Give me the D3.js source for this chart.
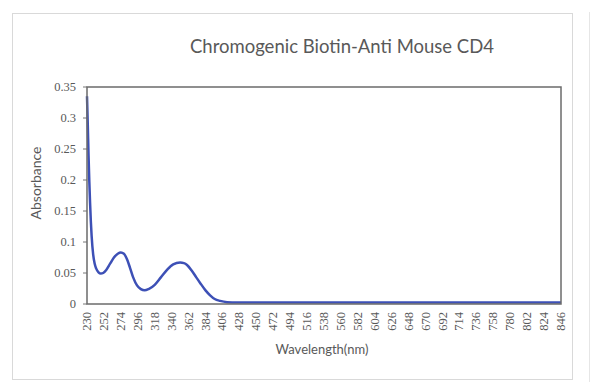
<!DOCTYPE html>
<html>
<head>
<meta charset="utf-8">
<script src="https://cdn.jsdelivr.net/npm/d3@7"></script>
<style>
  body { margin: 0; background: #fff; }
  text { fill: #595959; }
</style>
</head>
<body>
<div id="chart"></div>
<script>
const width = 600,
    height = 391;

// data
const wavelengths = [230, 231, 232, 233, 234, 235, 236, 238, 240, 242, 245, 248, 251, 255, 260, 265, 270, 274, 278, 282, 286, 290, 295, 300, 305, 310, 318, 326, 334, 342, 351, 356, 360, 366, 372, 377, 384, 390, 396, 403, 412, 425, 450, 600, 846];
const absorbance = [0.335, 0.29, 0.24, 0.198, 0.163, 0.133, 0.11, 0.08, 0.065, 0.057, 0.051, 0.049, 0.05, 0.055, 0.065, 0.075, 0.081, 0.083, 0.081, 0.072, 0.058, 0.043, 0.03, 0.024, 0.022, 0.024, 0.031, 0.043, 0.055, 0.064, 0.067, 0.066, 0.063, 0.054, 0.043, 0.034, 0.022, 0.014, 0.008, 0.005, 0.003, 0.0025, 0.0025, 0.0025, 0.0025];
const yTicks = [0, 0.05, 0.1, 0.15, 0.2, 0.25, 0.3, 0.35];
const xTicks = d3.range(230, 847, 22);

const margin = {left: 87, right: 39, top: 87, bottom: 87};

let svg = d3.select('#chart').append('svg')
    .attr('width', width)
    .attr('height', height);

// outer frame
svg.append('rect')
    .attr('x', 12.5).attr('y', 13.5)
    .attr('width', 560).attr('height', 366)
    .attr('fill', 'none')
    .attr('stroke', '#d9d9d9');

svg.append('line')
    .attr('x1', 589.5).attr('x2', 589.5)
    .attr('y1', 12).attr('y2', 382)
    .attr('stroke', '#e6e6e6');

let x = d3.scaleLinear()
    .domain([230, 846])
    .range([margin.left, width - margin.right]);

let y = d3.scaleLinear()
    .domain([0, 0.35])
    .range([height - margin.bottom, margin.top]);

// title
svg.append('text')
    .attr('x', 342).attr('y', 53)
    .attr('text-anchor', 'middle')
    .style('font-family', 'Lato, "Open Sans", sans-serif')
    .style('font-size', '18.5px')
    .text('Chromogenic Biotin-Anti Mouse CD4');

// y axis labels + ticks
let yAxis = svg.append('g').selectAll('g')
    .data(yTicks)
    .enter().append('g');

yAxis.append('line')
    .attr('x1', margin.left - 4).attr('x2', margin.left)
    .attr('y1', d => y(d)).attr('y2', d => y(d))
    .attr('stroke', '#777');

yAxis.append('text')
    .attr('x', margin.left - 11)
    .attr('y', d => y(d) + 4)
    .attr('text-anchor', 'end')
    .style('font-family', '"Liberation Serif", serif')
    .style('font-size', '12.5px')
    .text(d => d);

// x axis labels (rotated)
svg.append('g').selectAll('text')
    .data(xTicks)
    .enter().append('text')
    .attr('transform', d => 'translate(' + (x(d) + 4) + ',' + (height - margin.bottom + 8) + ') rotate(-90)')
    .attr('text-anchor', 'end')
    .style('font-family', '"Liberation Serif", serif')
    .style('font-size', '12.5px')
    .text(d => d);

// axis titles
svg.append('text')
    .attr('transform', 'translate(41,' + 183 + ') rotate(-90)')
    .attr('text-anchor', 'middle')
    .style('font-family', 'Lato, "Open Sans", sans-serif')
    .style('font-size', '14px')
    .text('Absorbance');

svg.append('text')
    .attr('x', 322).attr('y', 354)
    .attr('text-anchor', 'middle')
    .style('font-family', 'Lato, "Open Sans", sans-serif')
    .style('font-size', '13px')
    .text('Wavelength(nm)');

// data line
let points = wavelengths.map((w, i) => [w, absorbance[i]]);

let line = d3.line()
    .x(d => x(d[0]))
    .y(d => y(d[1]))
    .curve(d3.curveMonotoneX);

svg.append('path')
    .datum(points)
    .attr('d', line)
    .attr('fill', 'none')
    .attr('stroke', '#3d50b6')
    .attr('stroke-width', 2.5);

// plot border
svg.append('rect')
    .attr('x', margin.left).attr('y', margin.top)
    .attr('width', width - margin.left - margin.right)
    .attr('height', height - margin.top - margin.bottom)
    .attr('fill', 'none')
    .attr('stroke', '#6b6b6b')
    .attr('stroke-width', 1.5);
</script>
</body>
</html>
